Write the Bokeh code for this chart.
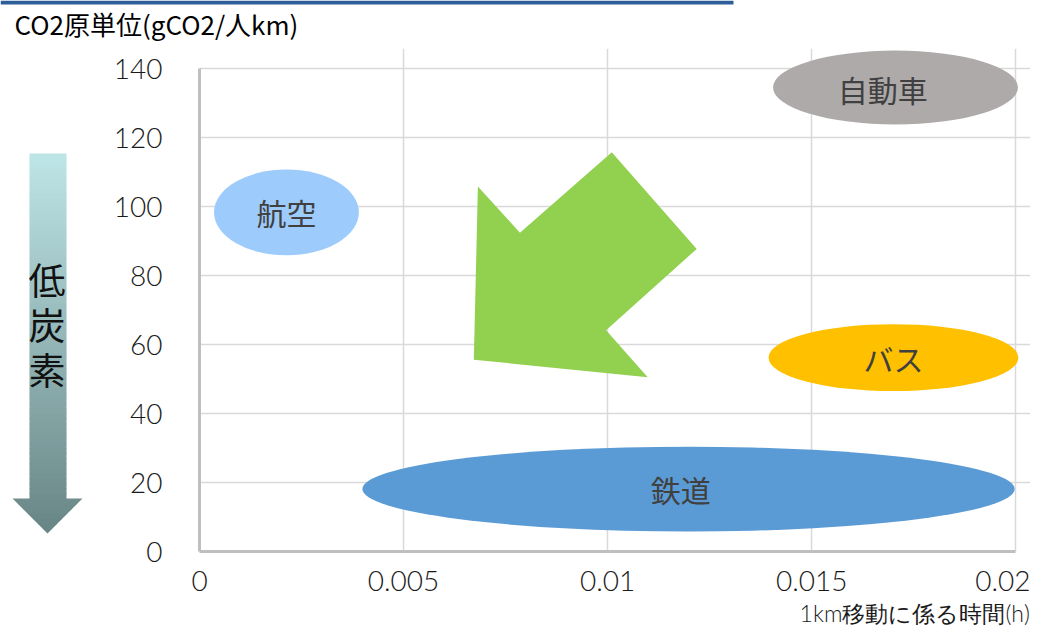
import numpy as np
from bokeh.plotting import figure
from bokeh.layouts import column, row
from bokeh.models import Range1d, FixedTicker
from bokeh.core.properties import value
from bokeh.embed import file_html
from bokeh.resources import INLINE

# ---- data ----
modes = ["自動車", "航空", "バス", "鉄道"]
mode_x = [0.01705, 0.00213, 0.0170, 0.01198]
mode_y = [134.5, 98.3, 56.2, 18.1]
mode_w = [0.0060, 0.00355, 0.00612, 0.01598]
mode_h = [21.4, 24.9, 19.4, 24.6]
mode_colors = ["#AEAAAA", "#9DCBFB", "#FFC000", "#5B9BD5"]
label_x = [0.01674, 0.00213, 0.0170, 0.01179]
label_y = [134.0, 98.3, 56.2, 18.1]

arrow_x = [0.00682, 0.00785, 0.0101, 0.01218, 0.00996, 0.01098, 0.00672]
arrow_y = [105.8, 92.4, 115.7, 87.7, 64.1, 50.5, 55.6]

x_ticks = [0, 0.005, 0.01, 0.015, 0.02]
x_tick_labels = ["0", "0.005", "0.01", "0.015", "0.02"]
y_ticks = [0, 20, 40, 60, 80, 100, 120, 140]

y_title = "CO2原単位(gCO2/人km)"
x_title = "1km移動に係る時間(h)"
side_text = ["低", "炭", "素"]

CJK = "Noto Sans CJK JP"
NUM = "Lato Light"

TOP_H, MAIN_H, BOT_H = 44, 554, 28


def blank(w, h, xr, yr):
    f = figure(width=w, height=h, x_range=Range1d(*xr), y_range=Range1d(*yr),
               output_backend="svg", toolbar_location=None,
               x_axis_location=None, y_axis_location=None,
               min_border=0, frame_align=False)
    f.min_border_left = f.min_border_right = f.min_border_top = f.min_border_bottom = 0
    f.outline_line_color = None
    f.xgrid.visible = False
    f.ygrid.visible = False
    return f


# ---------- top strip (y 0..44) ----------
top = blank(1030, TOP_H, (0, 1030), (TOP_H, 0))
top.quad(left=[0], right=[733], top=[0], bottom=[4], fill_color="#2E5E9A", line_color=None)
top.text(x=[14], y=[23], text=[y_title], text_align="left", text_baseline="middle",
         text_font=value(CJK), text_font_size="26px", text_color="#000000")

# ---------- left strip: gradient arrow (x 0..110, y 44..598) ----------
y_lo = TOP_H + MAIN_H
left = blank(110, MAIN_H, (0, 110), (y_lo, TOP_H))
top_c = np.array([190, 229, 231])
bot_c = np.array([104, 133, 133])
y0, y_head, y_tip = 153.0, 498.0, 533.0
bx0, bx1, cx, hw = 29.0, 66.0, 47.0, 35.0
edges = list(np.arange(y0, y_head, 5.0)) + list(np.arange(y_head, y_tip + 0.1, 5.0))
qs_t, qs_b, qs_c = [], [], []
ps_x, ps_y, ps_c = [], [], []
for a, b in zip(edges[:-1], edges[1:]):
    t = ((a + b) / 2 - y0) / (y_tip - y0)
    c = top_c + (bot_c - top_c) * t
    col = "#%02x%02x%02x" % tuple(int(round(v)) for v in c)
    if a < y_head:
        qs_t.append(a)
        qs_b.append(min(b + 0.8, y_head + 0.5))
        qs_c.append(col)
    else:
        bb = min(b + 0.8, y_tip)
        wa = hw * (y_tip - a) / (y_tip - y_head)
        wb = hw * (y_tip - bb) / (y_tip - y_head)
        ps_x.append([cx - wa, cx + wa, cx + wb, cx - wb])
        ps_y.append([a, a, bb, bb])
        ps_c.append(col)
left.quad(left=bx0, right=bx1, top=qs_t, bottom=qs_b, fill_color=qs_c, line_color=None)
left.patches(xs=ps_x, ys=ps_y, fill_color=ps_c, line_color=None)
left.text(x=[46.5] * 3, y=[278, 323, 368], text=side_text, text_align="center",
          text_baseline="middle", text_font=value(CJK), text_font_size="37px",
          text_color="#111111")

# ---------- main chart (x 110..1030, y 44..598) ----------
# frame: x 198..1030 (0.001 = 40.87 px), y 48..551 (20 = 69 px)
p = figure(width=920, height=MAIN_H, x_range=Range1d(0, 0.020357), y_range=Range1d(0, 145.8),
           output_backend="svg", toolbar_location=None, frame_align=False,
           min_border_left=88, min_border_right=0, min_border_top=4, min_border_bottom=47)
p.outline_line_color = None

for ax, ticks, b in ((p.xaxis, x_ticks, (0, 0.02)), (p.yaxis, y_ticks, (0, 140))):
    ax.ticker = FixedTicker(ticks=ticks)
    ax.bounds = b
    ax.axis_line_color = "#BFBFBF"
    ax.axis_line_width = 3
    ax.major_tick_line_color = None
    ax.minor_tick_line_color = None
    ax.major_label_text_font = NUM
    ax.major_label_text_font_size = "28px"
    ax.major_label_text_color = "#1a1a1a"
p.xaxis.major_label_overrides = {t: l for t, l in zip(x_ticks, x_tick_labels)}
p.xaxis.major_label_standoff = 13
p.yaxis.major_label_standoff = 31

p.xgrid.ticker = FixedTicker(ticks=x_ticks)
p.ygrid.ticker = FixedTicker(ticks=y_ticks)
p.xgrid.bounds = (0, 140)
p.ygrid.bounds = (0, 0.02)
for g in (p.xgrid, p.ygrid):
    g.grid_line_color = "#D9D9D9"
    g.grid_line_width = 1.5

p.ellipse(x=mode_x, y=mode_y, width=mode_w, height=mode_h,
          fill_color=mode_colors, line_color=None)
p.text(x=label_x, y=label_y, text=modes, text_align="center", text_baseline="middle",
       text_font=value(CJK), text_font_size="30px", text_color="#404040")
p.patch(x=arrow_x, y=arrow_y, fill_color="#92D050", line_color=None)

# ---------- bottom strip (y 598..626) ----------
bottom = blank(1030, BOT_H, (0, 1030), (y_lo + BOT_H, y_lo))
bottom.text(x=[1029], y=[y_lo + BOT_H / 2], text=[x_title], text_align="right",
            text_baseline="middle", text_font=value(NUM), text_font_size="23px",
            text_color="#1a1a1a")

layout = column(top, row(left, p, spacing=0), bottom, spacing=0)
open("out.html", "w").write(file_html(layout, INLINE))
